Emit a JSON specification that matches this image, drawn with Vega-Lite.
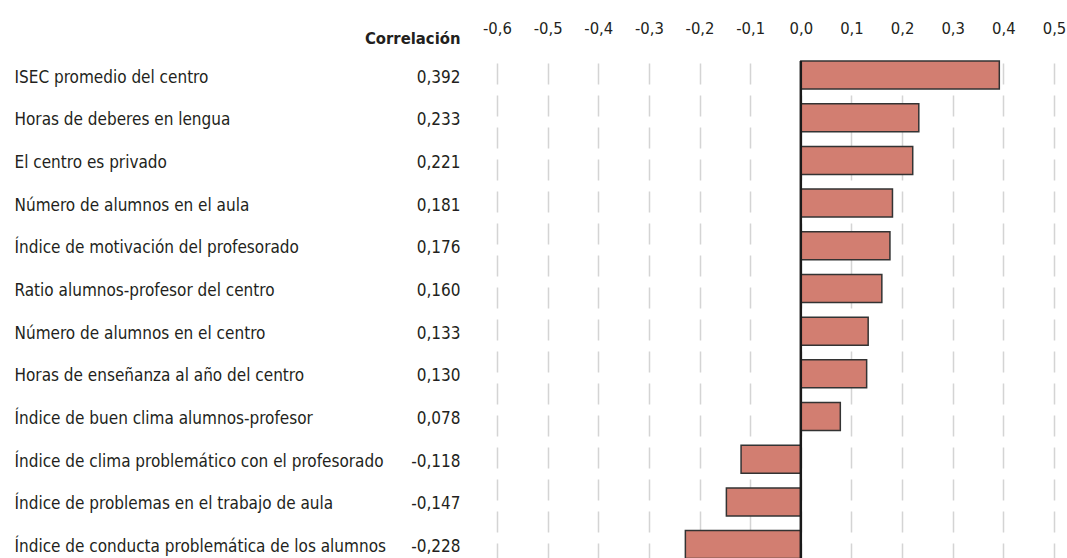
{
  "$schema": "https://vega.github.io/schema/vega-lite/v6.json",
  "width": 557,
  "height": 497,
  "autosize": {"type": "none"},
  "padding": {"left": 497, "top": 61, "right": 13, "bottom": 0},
  "background": "white",
  "config": {
    "view": {"stroke": null},
    "font": "DejaVu Sans Condensed",
    "axis": {"labelColor": "#231f20", "titleColor": "#231f20"}
  },
  "data": {
    "values": [
      {"name": "ISEC promedio del centro", "label": "0,392", "corr": 0.392},
      {"name": "Horas de deberes en lengua", "label": "0,233", "corr": 0.233},
      {"name": "El centro es privado", "label": "0,221", "corr": 0.221},
      {"name": "Número de alumnos en el aula", "label": "0,181", "corr": 0.181},
      {"name": "Índice de motivación del profesorado", "label": "0,176", "corr": 0.176},
      {"name": "Ratio alumnos-profesor del centro", "label": "0,160", "corr": 0.160},
      {"name": "Número de alumnos en el centro", "label": "0,133", "corr": 0.133},
      {"name": "Horas de enseñanza al año del centro", "label": "0,130", "corr": 0.130},
      {"name": "Índice de buen clima alumnos-profesor", "label": "0,078", "corr": 0.078},
      {"name": "Índice de clima problemático con el profesorado", "label": "-0,118", "corr": -0.118},
      {"name": "Índice de problemas en el trabajo de aula", "label": "-0,147", "corr": -0.147},
      {"name": "Índice de conducta problemática de los alumnos", "label": "-0,228", "corr": -0.228}
    ]
  },
  "resolve": {"scale": {"y": "independent"}},
  "layer": [
    {
      "mark": {"type": "bar", "fill": "#d27e71", "stroke": "#333333", "strokeWidth": 1.5},
      "encoding": {
        "y": {
          "field": "name",
          "type": "nominal",
          "sort": {"field": "corr", "op": "mean", "order": "descending"},
          "scale": {"range": [0, 497.6], "paddingInner": 0.344, "paddingOuter": 0},
          "axis": {
            "orient": "left",
            "title": null,
            "domain": false,
            "ticks": false,
            "tickSize": 0,
            "labelAlign": "left",
            "labelPadding": 483,
            "labelLimit": 600,
            "labelFontSize": 17,
            "labelBaseline": "alphabetic",
            "labelOffset": 7.5
          }
        },
        "x": {
          "field": "corr",
          "type": "quantitative",
          "stack": null,
          "scale": {"domain": [-0.6, 0.5], "nice": false, "zero": false},
          "axis": {
            "orient": "top",
            "title": null,
            "values": [-0.6, -0.5, -0.4, -0.3, -0.2, -0.1, 0, 0.1, 0.2, 0.3, 0.4, 0.5],
            "labelExpr": "replace(replace(format(datum.value, '.1f'), '.', ','), '\u2212', '-')",
            "domain": false,
            "ticks": false,
            "tickSize": 0,
            "grid": true,
            "gridColor": "#d4d4d4",
            "gridWidth": 1.5,
            "gridDash": [21, 11],
            "gridDashOffset": 30,
            "labelPadding": 28,
            "labelBaseline": "alphabetic",
            "labelFontSize": 16.5,
            "labelFlush": false,
            "labelOverlap": false
          }
        }
      }
    },
    {
      "mark": {"type": "bar", "opacity": 0},
      "encoding": {
        "y": {
          "field": "label",
          "type": "nominal",
          "sort": {"field": "corr", "op": "mean", "order": "descending"},
          "scale": {"range": [0, 497.6], "paddingInner": 0.344, "paddingOuter": 0},
          "axis": {
            "orient": "left",
            "title": "Correlación",
            "titleAngle": 0,
            "titleAlign": "right",
            "titleBaseline": "alphabetic",
            "titleX": -37,
            "titleY": -17.7,
            "titleFontSize": 16.5,
            "titleFontWeight": "bold",
            "domain": false,
            "ticks": false,
            "tickSize": 0,
            "labelAlign": "right",
            "labelPadding": 37,
            "labelFontSize": 17,
            "labelBaseline": "alphabetic",
            "labelOffset": 7.5
          }
        },
        "x": {"field": "corr", "type": "quantitative", "stack": null}
      }
    },
    {
      "data": {"values": [{"ref": 0}]},
      "mark": {"type": "rule", "color": "#1a1a1a", "strokeWidth": 2.5},
      "encoding": {"x": {"field": "ref", "type": "quantitative"}}
    }
  ]
}
